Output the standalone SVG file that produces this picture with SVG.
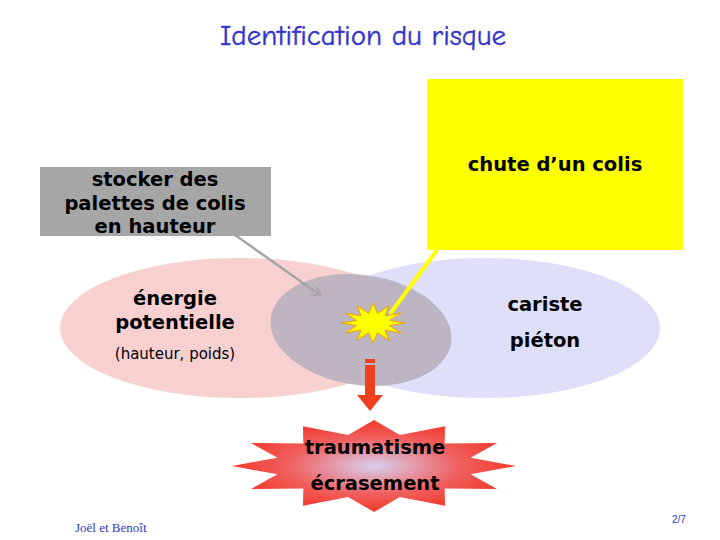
<svg xmlns="http://www.w3.org/2000/svg" width="720" height="540" viewBox="0 0 720 540">
<style>
.b{font-family:"DejaVu Sans",Verdana,sans-serif;font-weight:bold;font-size:19.5px;fill:#000;text-anchor:middle}
.r{font-family:"DejaVu Sans",Verdana,sans-serif;font-size:15px;fill:#000;text-anchor:middle}
</style>
<defs>
<radialGradient id="rg"><stop offset="0" stop-color="#d8d0f0"/><stop offset="0.6" stop-color="#f06060"/><stop offset="1" stop-color="#f23a2a"/></radialGradient>
<marker id="ga" markerWidth="10" markerHeight="10" refX="8" refY="5" orient="auto" markerUnits="userSpaceOnUse"><path d="M0,0 L9,5 L0,10" fill="none" stroke="#a6a6a6" stroke-width="2"/></marker>
</defs>
<rect width="720" height="540" fill="#fff"/>
<text x="363" y="45" font-family="'Comic Neue','DejaVu Sans',sans-serif" font-size="29" fill="#3333cc" text-anchor="middle" stroke="#3333cc" stroke-width="0.4">Identification du risque</text>
<g id="energie"><ellipse cx="240" cy="328" rx="180" ry="70" fill="#f8d0d0"/></g>
<g id="personnes"><ellipse cx="485" cy="328" rx="175" ry="70" fill="#dcdcf8" opacity="0.9"/></g>
<g id="overlap"><ellipse cx="361" cy="330" rx="91" ry="55" fill="#b8b0bc" opacity="0.9" transform="rotate(8 361 330)"/></g>
<g id="stocker"><rect x="40" y="167" width="231" height="69" fill="#a6a6a6"/>
<text class="b" x="155" y="186">stocker des</text><text class="b" x="155" y="210">palettes de colis</text><text class="b" x="155" y="233">en hauteur</text></g>
<g id="chute"><rect x="427" y="79" width="256" height="171" fill="#ffff00"/><text class="b" x="555" y="171">chute d’un colis</text></g>
<g id="connectors">
<line x1="235" y1="235" x2="320" y2="295" stroke="#a6a6a6" stroke-width="2.5" marker-end="url(#ga)"/>
<line x1="437" y1="250" x2="390" y2="314" stroke="#ffff00" stroke-width="4"/>
<rect x="365" y="359" width="10" height="4" fill="#f04020"/>
<rect x="365" y="365" width="10" height="30" fill="#f04020"/>
<polygon points="357,395 383,395 370,411" fill="#f04020"/>
</g>
<g id="choc"><polygon points="405,323 389.4,325.6 400.7,333 385,330.1 389,340.3 377.4,332.7 373,343 368.6,332.7 357,340.3 361,330.1 345.3,333 356.6,325.6 341,323 356.6,320.4 345.3,313 361,315.9 357,305.7 368.6,313.3 373,303 377.4,313.3 389,305.7 385,315.9 400.7,313 389.4,320.4" fill="#ffff00" stroke="#f0a000" stroke-width="1"/></g>
<text class="b" x="175" y="305">énergie</text><text class="b" x="175" y="329">potentielle</text>
<text class="r" x="175" y="359">(hauteur, poids)</text>
<text class="b" x="545" y="311">cariste</text><text class="b" x="545" y="347">piéton</text>
<g id="dommage"><polygon points="516,466 470.6,474.3 497,489 444.7,488.6 445,505.8 399.9,496.9 374,512 348.1,496.9 303,505.8 303.3,488.6 251,489 277.4,474.3 232,466 277.4,457.7 251,443 303.3,443.4 303,426.2 348.1,435.1 374,420 399.9,435.1 445,426.2 444.7,443.4 497,443 470.6,457.7" fill="url(#rg)"/>
<text class="b" x="375" y="454">traumatisme</text><text class="b" x="375" y="490">écrasement</text></g>
<text x="75" y="532" font-family="'Liberation Serif',serif" font-size="13" fill="#3333cc">Joël et Benoît</text>
<text x="672" y="523" font-family="'Liberation Sans',sans-serif" font-size="10" fill="#3333cc">2/7</text>
</svg>
